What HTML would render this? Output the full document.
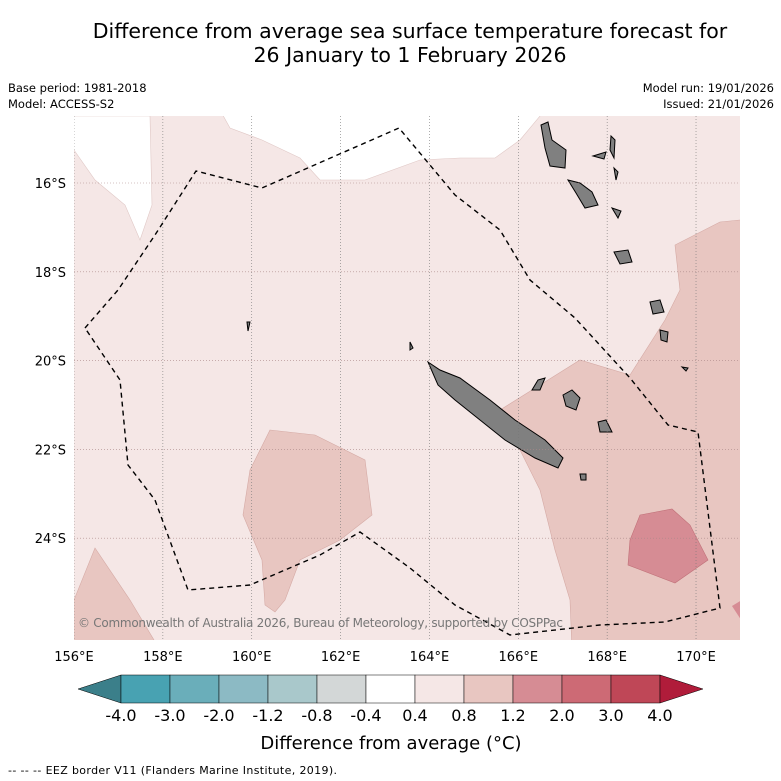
<!DOCTYPE html>
<html><head><meta charset="utf-8"><style>
body{margin:0;background:#fff;font-family:"Liberation Sans","DejaVu Sans",sans-serif;}
#wrap{position:relative;width:781px;height:781px;overflow:hidden;}
.t{position:absolute;white-space:nowrap;}
</style></head><body>
<div id="wrap">
<div class="t" style="left:0;width:820px;top:19px;text-align:center;font-size:20.5px;line-height:24px;font-family:'DejaVu Sans',sans-serif;">Difference from average sea surface temperature forecast for<br>26 January to 1 February 2026</div>
<div class="t" style="left:8px;top:80px;font-size:11.5px;line-height:16px;font-family:'DejaVu Sans',sans-serif;">Base period: 1981-2018<br>Model: ACCESS-S2</div>
<div class="t" style="right:7px;top:80px;font-size:11.5px;line-height:16px;text-align:right;font-family:'DejaVu Sans',sans-serif;">Model run: 19/01/2026<br>Issued: 21/01/2026</div>
<svg id="svg" width="781" height="781" style="position:absolute;left:0;top:0"></svg>
</div>
<script>
const lonTicks=[156,158,160,162,164,166,168,170];
const latTicks=[16,18,20,22,24];
const cbLabels=["-4.0","-3.0","-2.0","-1.2","-0.8","-0.4","0.4","0.8","1.2","2.0","3.0","4.0"];
const cbColors=["#48a2b2","#6aaeba","#8cbac4","#a9c8cb","#d3d7d7","#ffffff","#f5e7e6","#e8c6c1","#d68c94","#cd6a75","#bf4757"];
const cbExt=["#3b7f8a","#b01c3a"];
const NS="http://www.w3.org/2000/svg";
const svg=document.getElementById('svg');
const X0=74,X1=740,Y0=116,Y1=640;
const lx=l=>74+(l-156)*44.43;
const ly=la=>183+(la-16)*44.4;
function el(tag,attrs,name,parent){const e=document.createElementNS(NS,tag);for(const k in attrs)e.setAttribute(k,attrs[k]);


(parent||svg).appendChild(e);return e;}
const P=a=>a.map(p=>p.join(',')).join(' ');
const defs=el('defs',{},'defs');const cp=el('clipPath',{id:'c'},'clip',defs);el('rect',{x:X0,y:Y0,width:X1-X0,height:Y1-Y0},'clip-rect',cp);
const g=el('g',{'clip-path':'url(#c)'},'map-area');
el('rect',{x:X0,y:Y0,width:X1-X0,height:Y1-Y0,fill:'#f5e7e6'},'anomaly-0.4-0.8',g);
el('polygon',{points:P([[60,116],[150,116],[152,205],[140,240],[125,205],[95,180],[74,150],[60,150]]),fill:'#fff',stroke:'#e0c8c6','stroke-width':0.6},'anomaly-low-west',g);
el('polygon',{points:P([[220,110],[230,128],[262,140],[300,158],[320,180],[365,180],[420,160],[460,158],[495,158],[520,140],[545,110]]),fill:'#fff',stroke:'#e0c8c6','stroke-width':0.6},'anomaly-low-north',g);
const c2={fill:'#e8c6c1',stroke:'#d5aaa5','stroke-width':0.6};
el('polygon',Object.assign({points:P([[750,220],[740,220],[720,222],[675,245],[680,290],[665,320],[630,375],[580,360],[500,410],[540,490],[555,550],[570,600],[572,650],[750,650]])},c2),'anomaly-east',g);
el('polygon',Object.assign({points:P([[60,600],[74,600],[95,548],[130,600],[160,650],[60,650]])},c2),'anomaly-southwest',g);
el('polygon',Object.assign({points:P([[270,430],[315,435],[365,460],[372,515],[340,540],[300,560],[285,600],[275,612],[265,605],[262,560],[243,515],[250,470]])},c2),'anomaly-central',g);
el('polygon',{points:P([[640,515],[672,509],[690,525],[708,560],[675,583],[628,565],[630,540]]),fill:'#d68c94',stroke:'#c07078','stroke-width':0.6},'anomaly-1.2-2',g);
el('polygon',{points:P([[732,606],[745,598],[745,626]]),fill:'#d68c94'},'anomaly-1.2-2-se',g);
const land=[
[[428,362],[440,370],[460,378],[490,400],[515,420],[545,440],[563,458],[558,468],[535,458],[505,440],[480,420],[455,400],[438,385]],
[[541,125],[548,122],[552,140],[566,150],[565,168],[550,166],[545,148]],
[[568,180],[580,183],[592,192],[598,205],[585,208],[576,193]],
[[593,156],[606,152],[604,159]],[[611,136],[615,140],[614,158],[610,150]],
[[614,168],[618,172],[616,180]],[[612,208],[621,211],[618,218]],
[[614,252],[628,250],[632,262],[620,264]],[[650,302],[660,300],[664,312],[653,314]],
[[660,330],[668,332],[667,342],[661,340]],[[682,367],[688,368],[686,371]],
[[563,395],[572,390],[580,398],[576,410],[566,406]],[[598,422],[606,420],[612,432],[600,432]],
[[538,380],[545,378],[540,390],[532,390]],[[580,474],[586,474],[586,480],[581,480]],[[247,322],[250,322],[248,331]],[[410,342],[413,348],[410,350]]];
land.forEach((p,i)=>el('polygon',{points:P(p),fill:'#808080',stroke:'#000','stroke-width':1},'land-'+i,g));
lonTicks.forEach(l=>el('line',{x1:lx(l),x2:lx(l),y1:Y0,y2:Y1,stroke:'#777','stroke-width':0.6,'stroke-dasharray':'1,2'},'gridline-lon-'+l,g));
latTicks.forEach(l=>el('line',{x1:X0,x2:X1,y1:ly(l),y2:ly(l),stroke:'#a88','stroke-width':0.6,'stroke-dasharray':'1,2'},'gridline-lat-'+l,g));
el('polyline',{points:P([[85,328],[118,290],[155,235],[196,171],[262,188],[399,128],[455,195],[500,230],[530,280],[575,318],[630,378],[668,425],[698,432],[720,608],[665,622],[600,625],[510,635],[455,605],[410,568],[360,532],[320,555],[250,585],[188,590],[155,500],[128,465],[120,380],[85,328]]),fill:'none',stroke:'#000','stroke-width':1.4,'stroke-dasharray':'5,4'},'eez-border',g);
let cr=el('text',{x:78,y:627,'font-size':12,fill:'#777','font-family':'DejaVu Sans,sans-serif',textLength:485},'copyright',g);cr.textContent='© Commonwealth of Australia 2026, Bureau of Meteorology, supported by COSPPac';
lonTicks.forEach(l=>{const t=el('text',{x:lx(l),y:661,'font-size':13,'text-anchor':'middle','font-family':'DejaVu Sans,sans-serif'},'lon-label-'+l);t.textContent=l+'°E';});
latTicks.forEach(l=>{const t=el('text',{x:66,y:ly(l)+5,'font-size':13,'text-anchor':'end','font-family':'DejaVu Sans,sans-serif'},'lat-label-'+l);t.textContent=l+'°S';});
const cbx=121,cbw=49,cby=675,cbh=28;
el('polygon',{points:P([[78,cby+cbh/2],[cbx,cby],[cbx,cby+cbh]]),fill:cbExt[0],stroke:'#000','stroke-width':0.5},'colorbar-extend-low');
cbColors.forEach((c,i)=>el('rect',{x:cbx+i*cbw,y:cby,width:cbw,height:cbh,fill:c,stroke:'#000','stroke-width':0.5},'colorbar-box-'+i));
const ce=cbx+cbColors.length*cbw;
el('polygon',{points:P([[ce,cby],[ce+43,cby+cbh/2],[ce,cby+cbh]]),fill:cbExt[1],stroke:'#000','stroke-width':0.5},'colorbar-extend-high');
cbLabels.forEach((s,i)=>{const t=el('text',{x:cbx+i*cbw,y:721,'font-size':16,'text-anchor':'middle','font-family':'DejaVu Sans,sans-serif'},'colorbar-label');t.textContent=s;});
const cl=el('text',{x:391,y:749,'font-size':18,'text-anchor':'middle','font-family':'DejaVu Sans,sans-serif'},'colorbar-title');cl.textContent='Difference from average (°C)';
const ft=el('text',{x:8,y:774,'font-size':11,'font-family':'DejaVu Sans,sans-serif',textLength:329,'xml:space':'preserve'},'eez-legend');ft.textContent='--  --  -- EEZ border V11 (Flanders Marine Institute, 2019).';
</script></body></html>
